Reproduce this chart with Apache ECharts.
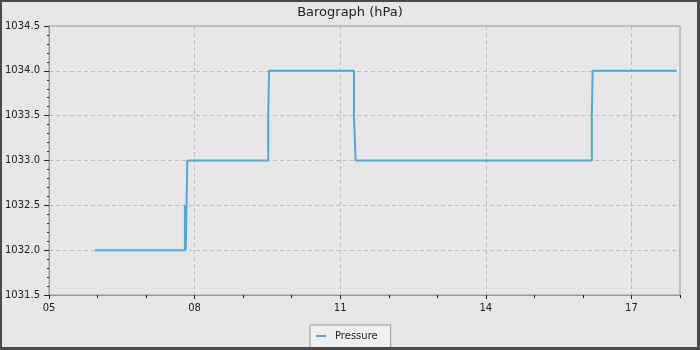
<!DOCTYPE html>
<html>
<head>
<meta charset="utf-8">
<script src="https://cdn.jsdelivr.net/npm/echarts@6/dist/echarts.min.js"></script>
<style>
html,body{margin:0;padding:0;background:#e6e6e6;}
#frame{position:absolute;left:0;top:0;width:700px;height:350px;box-sizing:border-box;border-style:solid;border-color:#4a4a4a;border-width:2px 3px 3px 2px;background:#e6e6e6;overflow:hidden;}
#chart{position:absolute;left:-2px;top:-2px;width:700px;height:350px;}
</style>
</head>
<body>
<div id="frame"><div id="chart"></div></div>
<script>
// Readings: time of change (HH:MM) and pressure (hPa)
var times = ["05:57","07:48","07:49","07:50","07:51","09:31","09:32","11:17","11:19","16:11","16:12","17:56"];
var pressure = [1032.0,1032.5,1032.0,1032.5,1033.0,1033.5,1034.0,1033.5,1033.0,1033.5,1034.0,1034.0];
var seriesName = "Pressure";
var chartTitle = "Barograph (hPa)";
var startHour = 5, endHour = 18;

function toMin(t){ var p=t.split(":"); return (+p[0])*60 + (+p[1]) - startHour*60; }
var data = times.map(function(t,i){ return [toMin(t), pressure[i]]; });
function pad(n){ return (n<10?"0":"")+n; }

var chart = echarts.init(document.getElementById('chart'), null, {renderer:'canvas'});
var font = "DejaVu Sans";
chart.setOption({
  backgroundColor: 'transparent',
  animation: false,
  title: { text: chartTitle, left: 'center', top: 1,
    textStyle: { fontFamily: font, fontSize: 13, fontWeight: 'normal', color: '#222' } },
  grid: { left: 49, right: 20, top: 26, bottom: 55, show: true, borderColor: '#999', borderWidth: 1, backgroundColor: 'transparent' },
  legend: { top: 325, left: 310, data: [seriesName],
    backgroundColor: '#efefef', borderColor: '#999', borderWidth: 1, borderRadius: 0,
    padding: [6, 13, 10, 6], itemWidth: 10, itemHeight: 2, itemGap: 9, icon: 'rect',
    textStyle: { fontFamily: font, fontSize: 10, color: '#222', padding: [0, 0, 0, 4] } },
  xAxis: [{
    type: 'value', min: 0, max: (endHour-startHour)*60, interval: 180,
    axisLine: { show: true, lineStyle: { color: '#999' } },
    axisTick: { show: true, length: 4, lineStyle: { color: '#222' } },
    axisLabel: { margin: 8, showMaxLabel: false, fontFamily: font, fontSize: 10, color: '#222',
      formatter: function(v){ return pad(Math.round(v/60) + startHour); } },
    splitLine: { show: true, lineStyle: { color: '#bdbdbd', type: [4,3] } }
  },{
    type: 'value', min: 0, max: (endHour-startHour)*60, interval: 60, position: 'bottom',
    axisLine: { show: false }, axisLabel: { show: false }, splitLine: { show: false },
    axisTick: { show: true, length: 3, lineStyle: { color: '#222' } }
  }],
  yAxis: {
    type: 'value', min: 1031.5, max: 1034.5, interval: 0.5,
    axisLine: { show: true, lineStyle: { color: '#999' } },
    axisTick: { show: true, length: 5, lineStyle: { color: '#222' } },
    minorTick: { show: true, splitNumber: 5, length: 2, lineStyle: { color: '#222' } },
    axisLabel: { margin: 9, fontFamily: font, fontSize: 10, color: '#222',
      formatter: function(v){ return v.toFixed(1); } },
    splitLine: { show: true, lineStyle: { color: '#bdbdbd', type: [4,3] } }
  },
  series: [{
    name: seriesName, type: 'line', step: 'end', data: data, xAxisIndex: 0,
    showSymbol: false, symbol: 'none',
    lineStyle: { color: '#4ea8da', width: 2 }, itemStyle: { color: '#4ea8da' }
  }]
});
</script>
</body>
</html>
